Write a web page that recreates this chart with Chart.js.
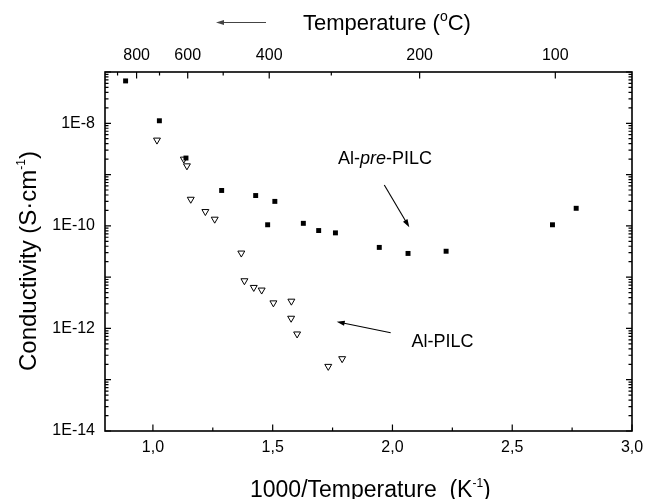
<!DOCTYPE html>
<html><head><meta charset="utf-8">
<script src="https://cdn.jsdelivr.net/npm/chart.js@4/dist/chart.umd.min.js"></script>
<style>html,body{margin:0;padding:0;background:#fff;overflow:hidden}#wrap{width:647px;height:499px}</style>
</head><body><div id="wrap"><canvas id="c" width="647" height="499"></canvas></div>
<script>
// ---- data ----
const preX  = [0.886, 1.027, 1.138, 1.287, 1.429, 1.509, 1.479, 1.628, 1.692, 1.762, 1.945, 2.065, 2.224, 2.668, 2.767];
const preY  = [6.7e-8, 1.12e-8, 2.1e-9, 4.9e-10, 3.9e-10, 3.0e-10, 1.05e-10, 1.12e-10, 8.1e-11, 7.3e-11, 3.8e-11, 2.9e-11, 3.2e-11, 1.05e-10, 2.2e-10];
const pilcX = [1.017, 1.129, 1.142, 1.158, 1.219, 1.258, 1.369, 1.382, 1.421, 1.454, 1.503, 1.578, 1.577, 1.602, 1.732, 1.790];
const pilcY = [4.7e-9, 2.0e-9, 1.48e-9, 3.3e-10, 1.9e-10, 1.35e-10, 2.95e-11, 8.5e-12, 6.3e-12, 5.6e-12, 3.15e-12, 3.4e-12, 1.58e-12, 7.8e-13, 1.82e-13, 2.57e-13];

const xTickValues = [1.0, 1.5, 2.0, 2.5, 3.0];
const xTickLabels = ['1,0', '1,5', '2,0', '2,5', '3,0'];
const xMinorTicks = [1.25, 1.75, 2.25, 2.75];
const yTickValues = [1e-8, 1e-10, 1e-12, 1e-14];
const yTickLabels = ['1E-8', '1E-10', '1E-12', '1E-14'];
const yDecadeExps = [-14, -13, -12, -11, -10, -9, -8, -7];
const topTempLabeled = [800, 600, 400, 200, 100];
const topTempMinor = [900, 700, 500, 300];

const FONT = "'Liberation Sans', Arial, sans-serif";
const invT = t => 1000 / (t + 273.15);

function drawRich(ctx, parts, x, y) {
  let cx = x;
  parts.forEach(p => {
    ctx.font = (p.italic ? 'italic ' : '') + p.size + 'px ' + FONT;
    ctx.fillText(p.t, cx, y + (p.dy || 0));
    cx += ctx.measureText(p.t).width;
  });
  return cx - x;
}
function measureRich(ctx, parts) {
  let w = 0;
  parts.forEach(p => { ctx.font = (p.italic ? 'italic ' : '') + p.size + 'px ' + FONT; w += ctx.measureText(p.t).width; });
  return w;
}
function arrow(ctx, x1, y1, x2, y2, head, half, color) {
  ctx.save();
  const ang = Math.atan2(y2 - y1, x2 - x1);
  ctx.strokeStyle = color; ctx.fillStyle = color; ctx.lineWidth = 1.1;
  ctx.beginPath(); ctx.moveTo(x1, y1);
  ctx.lineTo(x2 - Math.cos(ang) * head * 0.8, y2 - Math.sin(ang) * head * 0.8); ctx.stroke();
  ctx.beginPath();
  ctx.moveTo(x2, y2);
  ctx.lineTo(x2 - Math.cos(ang) * head - Math.sin(ang) * half, y2 - Math.sin(ang) * head + Math.cos(ang) * half);
  ctx.lineTo(x2 - Math.cos(ang) * head + Math.sin(ang) * half, y2 - Math.sin(ang) * head - Math.cos(ang) * half);
  ctx.closePath(); ctx.fill();
  ctx.restore();
}

const deco = {
  id: 'deco',
  afterDraw(chart) {
    const { ctx, chartArea: a, scales } = chart;
    const xs = scales.x, x2 = scales.x2, ys = scales.y;
    ctx.save();
    ctx.strokeStyle = '#000';
    ctx.lineWidth = 1.2;
    ctx.beginPath();
    xTickValues.forEach(v => { const p = xs.getPixelForValue(v); ctx.moveTo(p, a.bottom); ctx.lineTo(p, a.bottom - 6.5); });
    xMinorTicks.forEach(v => { const p = xs.getPixelForValue(v); ctx.moveTo(p, a.bottom); ctx.lineTo(p, a.bottom - 3.5); });
    topTempLabeled.forEach(t => { const p = x2.getPixelForValue(invT(t)); ctx.moveTo(p, a.top); ctx.lineTo(p, a.top + 6.5); });
    topTempMinor.forEach(t => { const p = x2.getPixelForValue(invT(t)); ctx.moveTo(p, a.top); ctx.lineTo(p, a.top + 3.5); });
    yDecadeExps.forEach(e => {
      const base = Math.pow(10, e);
      let p = ys.getPixelForValue(base);
      ctx.moveTo(a.left, p); ctx.lineTo(a.left + 6, p);
      ctx.moveTo(a.right, p); ctx.lineTo(a.right - 6, p);
      if (e < -7) {
        for (let m = 2; m <= 9; m++) {
          p = ys.getPixelForValue(m * base);
          ctx.moveTo(a.left, p); ctx.lineTo(a.left + 3.5, p);
          ctx.moveTo(a.right, p); ctx.lineTo(a.right - 3.5, p);
        }
      }
    });
    ctx.stroke();
    ctx.lineWidth = 1.6;
    ctx.strokeRect(a.left, a.top, a.right - a.left, a.bottom - a.top);

    ctx.fillStyle = '#000';
    ctx.textBaseline = 'alphabetic';
    ctx.textAlign = 'left';
    // top title
    drawRich(ctx, [{ t: 'Temperature (', size: 22 }, { t: 'o', size: 14, dy: -9 }, { t: 'C)', size: 22 }], 303, 30);
    arrow(ctx, 266, 22.5, 216, 22.5, 8, 2.5, '#444');
    // bottom title
    ctx.fillStyle = '#000';
    drawRich(ctx, [{ t: '1000/Temperature  (K', size: 23 }, { t: '-1', size: 12, dy: -10 }, { t: ')', size: 23 }], 250, 496.5);
    // left title (rotated)
    const yParts = [{ t: 'Conductivity (S\u00b7cm', size: 24 }, { t: '-1', size: 12, dy: -11 }, { t: ')', size: 24 }];
    const yw = measureRich(ctx, yParts);
    ctx.save();
    ctx.translate(35.5, 261);
    ctx.rotate(-Math.PI / 2);
    drawRich(ctx, yParts, -yw / 2, 0);
    ctx.restore();
    // annotations
    ctx.fillStyle = '#000';
    drawRich(ctx, [{ t: 'Al-', size: 18 }, { t: 'pre', size: 18, italic: true }, { t: '-PILC', size: 18 }], 338, 163.5);
    drawRich(ctx, [{ t: 'Al-PILC', size: 18 }], 411.5, 346.5);
    arrow(ctx, 384.3, 185, 409.3, 227.3, 8, 2.6, '#000');
    arrow(ctx, 390.7, 332.7, 336.7, 321.7, 8, 2.6, '#000');
    ctx.restore();
  }
};

new Chart(document.getElementById('c'), {
  type: 'scatter',
  data: {
    datasets: [
      { label: 'Al-pre-PILC', data: preX.map((x, i) => ({ x, y: preY[i] })),
        pointStyle: 'rect', pointRadius: 3.5, backgroundColor: '#000', borderColor: '#000', borderWidth: 0, xAxisID: 'x', yAxisID: 'y' },
      { label: 'Al-PILC', data: pilcX.map((x, i) => ({ x, y: pilcY[i] })),
        pointStyle: 'triangle', rotation: 180, pointRadius: 4, backgroundColor: '#fff', borderColor: '#000', borderWidth: 1, xAxisID: 'x', yAxisID: 'y' }
    ]
  },
  options: {
    responsive: false, animation: false, devicePixelRatio: 1,
    layout: { padding: { left: 0, right: 15, top: 0, bottom: 0 } },
    plugins: { legend: { display: false }, tooltip: { enabled: false } },
    scales: {
      x: {
        type: 'linear', position: 'bottom', min: 0.8, max: 3.0,
        afterBuildTicks: s => { s.ticks = xTickValues.map(v => ({ value: v })); },
        afterFit: s => { s.height = 68; s.paddingLeft = 0; s.paddingRight = 0; },
        ticks: { autoSkip: false, maxRotation: 0, padding: 7, color: '#000', font: { family: FONT, size: 16 },
          callback: (v, i) => xTickLabels[i] },
        grid: { display: false, drawTicks: false }, border: { display: false }
      },
      x2: {
        type: 'linear', position: 'top', min: 0.8, max: 3.0,
        afterBuildTicks: s => { s.ticks = topTempLabeled.map(t => ({ value: invT(t) })); },
        afterFit: s => { s.height = 72; s.paddingLeft = 0; s.paddingRight = 0; },
        ticks: { autoSkip: false, maxRotation: 0, padding: 7, color: '#000', font: { family: FONT, size: 16 },
          callback: (v, i) => String(topTempLabeled[i]) },
        grid: { display: false, drawTicks: false }, border: { display: false }
      },
      y: {
        type: 'logarithmic', position: 'left', min: 1e-14, max: 1e-7,
        afterBuildTicks: s => { s.ticks = yTickValues.map(v => ({ value: v })); },
        afterFit: s => { s.width = 105; s.paddingTop = 0; s.paddingBottom = 0; },
        ticks: { autoSkip: false, padding: 10, color: '#000', font: { family: FONT, size: 16 },
          callback: (v, i) => yTickLabels[i] },
        grid: { display: false, drawTicks: false }, border: { display: false }
      }
    }
  },
  plugins: [deco]
});
</script>
</body></html>
